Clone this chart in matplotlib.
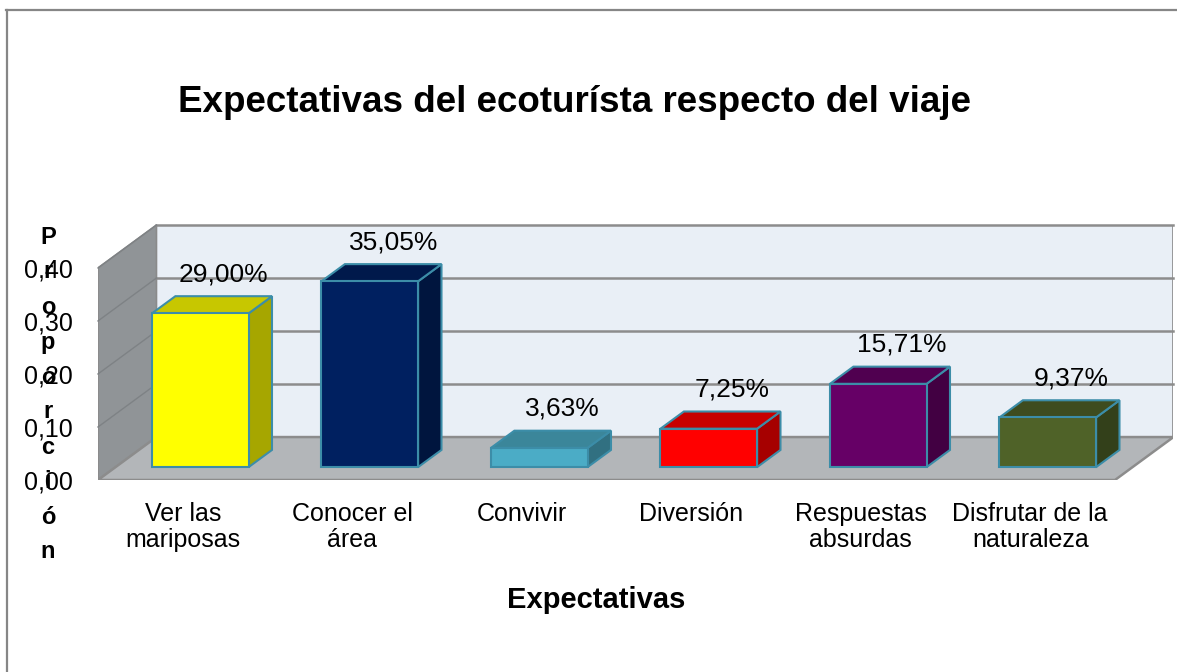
import matplotlib
matplotlib.use('Agg')
import matplotlib.pyplot as plt
from matplotlib.patches import Polygon
from matplotlib.lines import Line2D
from matplotlib.colors import to_rgb

plt.rcParams['font.family'] = ['Liberation Sans', 'DejaVu Sans']

# data
categories = ['Ver las\nmariposas', 'Conocer el\nárea', 'Convivir', 'Diversión',
              'Respuestas\nabsurdas', 'Disfrutar de la\nnaturaleza']
values = [0.2900, 0.3505, 0.0363, 0.0725, 0.1571, 0.0937]
labels = ['29,00%', '35,05%', '3,63%', '7,25%', '15,71%', '9,37%']
colors = ['#FFFF00', '#002060', '#4BACC6', '#FF0000', '#660066', '#4F6228']
yticks = [0.0, 0.1, 0.2, 0.3, 0.4]
ytick_labels = ['0,00', '0,10', '0,20', '0,30', '0,40']

# fake 3d projection (depth offset in data units)
DX = 0.345
DY = 0.081
YMAX = 0.4
BAR_W = 0.57
Z0, Z1 = 0.3, 0.7          # bar depth range (fraction of floor depth)
EDGE = '#3C8DA8'


def shade(c, f):
    r, g, b = to_rgb(c)
    return (r * f, g * f, b * f)


W, H = 1177, 672
fig = plt.figure(figsize=(W / 100, H / 100), dpi=100)
left_px, bottom_px, top_px = 98, 480, 225
slot_px = (1115 - 98) / 6
ax = fig.add_axes([left_px / W, 1 - bottom_px / H,
                   (6 + DX) * slot_px / W, (bottom_px - top_px) / H])
ax.set_xlim(0, 6 + DX)
ax.set_ylim(0, YMAX + DY)
for s in ax.spines.values():
    s.set_visible(False)
ax.set_facecolor('none')

n = len(values)
wall_edge = '#8A8A8A'
# back wall
ax.add_patch(Polygon([(DX, DY), (n + DX, DY), (n + DX, YMAX + DY), (DX, YMAX + DY)],
                     closed=True, facecolor='#E9EFF6', edgecolor=wall_edge, lw=1.2, zorder=1))
# side wall
ax.add_patch(Polygon([(0, 0), (DX, DY), (DX, YMAX + DY), (0, YMAX)],
                     closed=True, facecolor='#909497', edgecolor=wall_edge, lw=1.2, zorder=1))
# floor
ax.add_patch(Polygon([(0, 0), (n, 0), (n + DX, DY), (DX, DY)],
                     closed=True, facecolor='#B3B6B9', edgecolor='#8C8C8C', lw=1.8, zorder=1))
# gridlines
for t in yticks[1:]:
    ax.plot([DX, n + DX], [t + DY, t + DY], color='#8C8C8C', lw=1.8, zorder=2, clip_on=False)
    ax.plot([0, DX], [t, t + DY], color='#7E8285', lw=1.0, zorder=2, clip_on=False)

# bars
for i, (v, c, lab) in enumerate(zip(values, colors, labels)):
    x0 = i + (1 - BAR_W) / 2 + Z0 * DX
    y0 = Z0 * DY
    ddx = (Z1 - Z0) * DX
    ddy = (Z1 - Z0) * DY
    x1 = x0 + BAR_W
    y1 = y0 + v
    side = [(x1, y0), (x1 + ddx, y0 + ddy), (x1 + ddx, y1 + ddy), (x1, y1)]
    top = [(x0, y1), (x1, y1), (x1 + ddx, y1 + ddy), (x0 + ddx, y1 + ddy)]
    front = [(x0, y0), (x1, y0), (x1, y1), (x0, y1)]
    ax.add_patch(Polygon(side, closed=True, facecolor=shade(c, 0.65), edgecolor=EDGE, lw=1.5, zorder=3))
    ax.add_patch(Polygon(top, closed=True, facecolor=shade(c, 0.78), edgecolor=EDGE, lw=1.5, zorder=3))
    ax.add_patch(Polygon(front, closed=True, facecolor=c, edgecolor=EDGE, lw=1.5, zorder=4))
    ax.annotate(lab, xy=(x0 + BAR_W / 2 + ddx, y1), xytext=(0, 28), textcoords='offset points',
                ha='center', va='center', fontsize=19, zorder=5)

# axes ticks
ax.set_yticks(yticks)
ax.set_yticklabels(ytick_labels, fontsize=18)
ax.set_xticks([i + 0.5 for i in range(n)])
ax.set_xticklabels(categories, fontsize=18, linespacing=1.1)
ax.tick_params(axis='y', length=0, pad=18)
ax.tick_params(axis='x', length=0, pad=16)

# titles
fig.text(575 / W, 1 - 112 / H, 'Expectativas del ecoturísta respecto del viaje',
         ha='center', va='baseline', fontsize=26.5, fontweight='bold')
fig.text(596 / W, 1 - 600 / H, 'Expectativas', ha='center', va='center',
         fontsize=21, fontweight='bold')
# y axis title written letter by letter
for k, ch in enumerate('Proporción'):
    fig.text(48 / W, 1 - (237 + k * 35) / H, ch, ha='center', va='center',
             fontsize=17, fontweight='bold')

# chart frame (only top and left edges visible)
fig.add_artist(Line2D([6 / W, 1], [1 - 10 / H, 1 - 10 / H], color='#868686', lw=1.6))
fig.add_artist(Line2D([7 / W, 7 / W], [0, 1 - 10 / H], color='#868686', lw=1.6))

fig.savefig('out.png', dpi=100)
